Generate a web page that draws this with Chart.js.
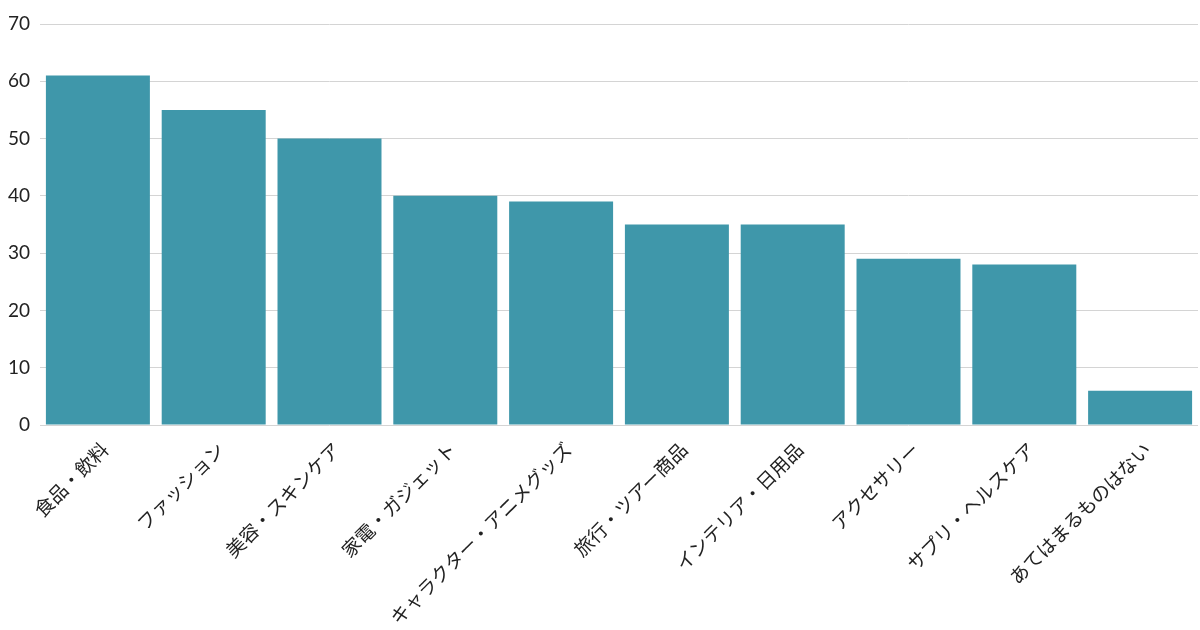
<!DOCTYPE html>
<html>
<head>
<meta charset="utf-8">
<script src="https://cdn.jsdelivr.net/npm/chart.js@4"></script>
<style>
html,body{margin:0;padding:0;background:#fff;}
#wrap{width:1200px;height:630px;}
</style>
</head>
<body>
<div id="wrap"><canvas id="c" width="1200" height="630"></canvas></div>
<script>
const categories = ["食品・飲料","ファッション","美容・スキンケア","家電・ガジェット","キャラクター・アニメグッズ","旅行・ツアー商品","インテリア・日用品","アクセサリー","サプリ・ヘルスケア","あてはまるものはない"];
const values = [61, 55, 50, 40, 39, 35, 35, 29, 28, 6];
const yTicks = [0, 10, 20, 30, 40, 50, 60, 70];

new Chart(document.getElementById('c'), {
  type: 'bar',
  data: {
    labels: categories,
    datasets: [{
      data: values,
      backgroundColor: '#3f97aa',
      borderWidth: 0,
      barPercentage: 0.898,
      categoryPercentage: 1.0
    }]
  },
  options: {
    responsive: false,
    animation: false,
    devicePixelRatio: 1,
    layout: { padding: { left: 0, right: 2, top: 24, bottom: 0 } },
    plugins: { legend: { display: false }, tooltip: { enabled: false } },
    scales: {
      x: {
        grid: { display: false, drawTicks: false },
        border: { display: false },
        afterFit: (s) => { s.height = 205; },
        ticks: {
          autoSkip: false,
          maxRotation: 45,
          minRotation: 45,
          padding: 13,
          labelOffset: 7,
          color: '#222',
          font: { family: "'Noto Sans CJK JP', sans-serif", size: 19 }
        }
      },
      y: {
        min: 0,
        max: 70,
        afterBuildTicks: (s) => { s.ticks = yTicks.map(v => ({ value: v })); },
        afterFit: (s) => { s.width = 40; },
        grid: { color: '#d4d4d4', lineWidth: 1, drawTicks: false },
        border: { display: false },
        ticks: {
          padding: 10,
          color: '#222',
          font: { family: "Lato, 'Noto Sans', sans-serif", size: 19 }
        }
      }
    }
  }
});
</script>
</body>
</html>
